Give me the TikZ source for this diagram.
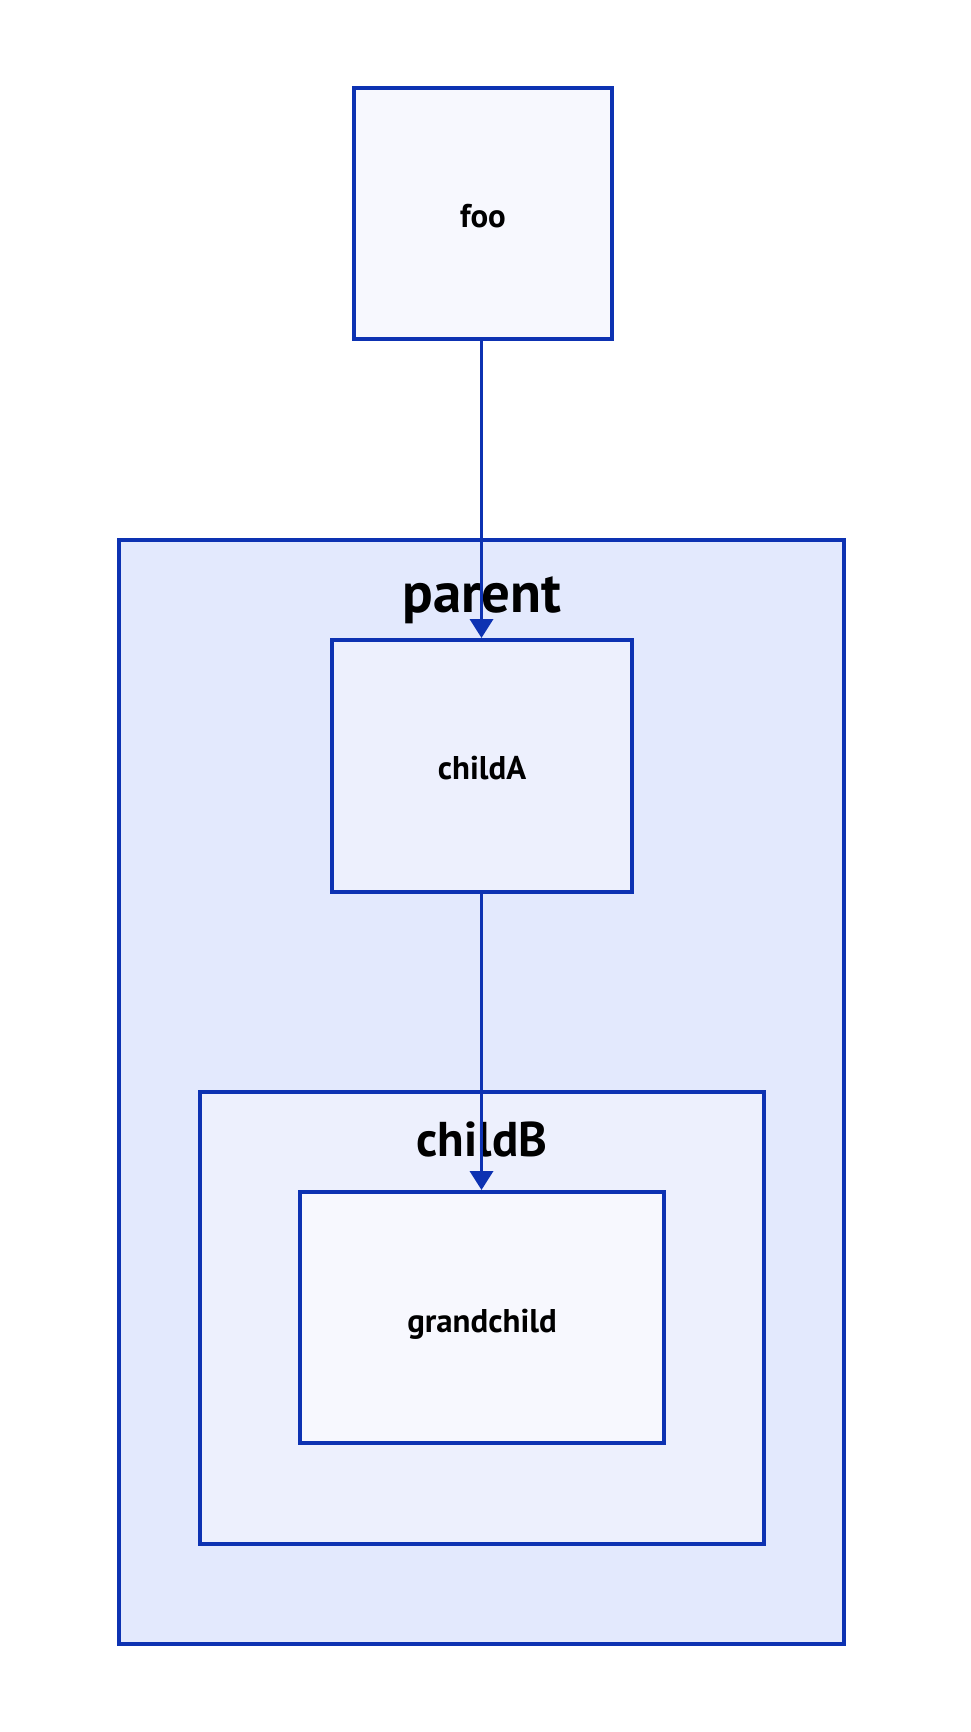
\documentclass[tikz,border=0pt]{standalone}
\usepackage{fontspec}
\setmainfont{PT Sans}
\usetikzlibrary{arrows.meta}
\definecolor{strokeblue}{HTML}{0D32B2}
\definecolor{fillB4}{HTML}{E3E9FD}
\definecolor{fillB5}{HTML}{EDF0FD}
\definecolor{fillB6}{HTML}{F7F8FE}
\tikzset{
  box/.style={draw=strokeblue, line width=4bp, rectangle, inner sep=0pt},
  boxtext/.style={font=\bfseries\fontsize{33}{40}\selectfont, inner sep=0pt, anchor=base},
  lbl/.style={inner sep=0pt, anchor=base, font=\bfseries},
  conn/.style={draw=strokeblue, line width=3.6bp, -{Triangle[width=23bp,length=19bp]}},
}
\begin{document}
\begin{tikzpicture}[x=1bp,y=-1bp]
\useasboundingbox (0,0) rectangle (970,1732);
% containers
\node[box, fill=fillB4, minimum width=724.5bp, minimum height=1103.5bp] (parent) at (481.25,1091.75) {};
\node[lbl, font=\bfseries\fontsize{57}{64}\selectfont] (parentlbl) at (482,612) {parent};
\node[box, fill=fillB5, minimum width=564bp, minimum height=451.5bp] (childB) at (482,1317.75) {};
\node[lbl, font=\bfseries\fontsize{49}{56}\selectfont] (childBlbl) at (482,1156) {childB};
% leaf nodes
\node[box, fill=fillB6, minimum width=258bp, minimum height=251bp] (foo) at (483,213.5) {};
\node[boxtext] (footxt) at (483,227) {foo};
\node[box, fill=fillB5, minimum width=300bp, minimum height=252bp] (childA) at (482,766) {};
\node[boxtext] (childAtxt) at (482,779) {childA};
\node[box, fill=fillB6, minimum width=364bp, minimum height=251bp] (grandchild) at (482,1317.5) {};
\node[boxtext] (grandchildtxt) at (482,1332) {grandchild};
% connectors
\draw[conn] (foo.south -| childA.north) ++(-0.5,0) coordinate (fs) -- (fs |- childA.north);
\draw[conn] (childA.south) ++(-0.5,0) coordinate (cs) -- (cs |- grandchild.north);
\end{tikzpicture}
\end{document}
